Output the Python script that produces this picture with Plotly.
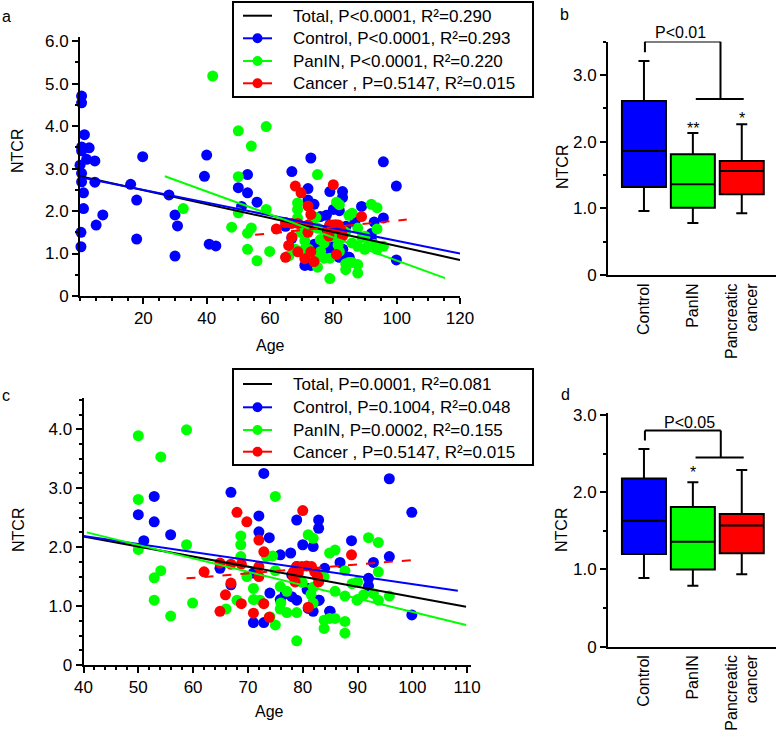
import plotly.graph_objects as go

FONT = "Liberation Sans, Arial, sans-serif"
BLUE, GREEN, RED = "#0000FF", "#00FF00", "#FF0000"
W, H = 777, 738

# ---------------- data (age, NTCR) ----------------
control_age = [0.5, 0.5, 1.4, 0.5, 2.9, 0.5, 2.1, 4.7, 0.0, 0.5, 0.5, 4.7, 1.1, 1.1, 5.1, 7.2, 0.3, 0.3,
               16.0, 17.9, 17.9, 19.8, 28.1, 30.0, 30.8, 30.0, 40.8, 42.9, 39.3, 40.0,
               50.0, 52.9, 52.9, 51.0, 55.9, 66.9, 72.9, 72.0, 72.0, 73.9, 75.9, 77.8, 78.9, 80.0,
               81.9, 82.9, 82.9, 64.9, 66.9, 74.0, 75.9, 76.8, 78.0, 78.9, 71.0, 72.9, 78.9, 81.0,
               82.9, 84.9, 86.8, 88.9, 92.0, 92.0, 92.9, 95.8, 95.8, 99.9, 99.9, 71.0, 84.0, 81.9,
               81.0, 78.0, 81.9, 83.0, 85.0, 80.8]
control_ntcr = [4.71, 4.55, 3.80, 3.51, 3.49, 3.42, 3.22, 3.18, 3.08, 2.89, 2.69, 2.68, 2.43, 2.06, 1.67, 1.91, 1.50, 1.16,
                2.63, 2.26, 1.34, 3.28, 2.38, 1.91, 1.65, 0.94, 1.22, 1.18, 2.82, 3.32,
                2.55, 2.86, 2.43, 2.11, 2.21, 2.93, 3.25, 2.53, 2.26, 2.16, 1.87, 1.90, 2.46, 2.04,
                2.01, 2.46, 2.32, 1.64, 1.36, 1.22, 1.11, 1.21, 1.16, 1.10, 0.72, 0.72, 1.67, 1.30,
                1.10, 0.91, 1.74, 2.11, 1.47, 1.34, 1.74, 1.84, 3.16, 2.59, 0.85, 1.56, 1.64, 0.91,
                0.96, 1.53, 1.05, 1.10, 0.91, 1.28]

panin_age = [41.9, 32.6, 47.9,
             50.0, 58.8, 54.1, 50.0, 50.0, 58.8, 52.9, 54.1, 52.9, 55.9, 59.9, 75.0, 68.7, 68.7, 68.7,
             69.8, 68.0, 66.0, 71.0, 72.2, 71.0, 74.5, 75.0, 74.0, 75.0, 75.9, 77.1, 78.9, 78.9, 81.0,
             81.9, 84.9, 85.9, 87.7, 89.0, 90.0, 85.9, 87.7, 90.0, 91.1, 92.9, 93.8, 95.8, 93.8, 92.0,
             93.8, 87.7, 87.7, 85.9, 84.9, 83.9, 83.9, 75.9, 77.1, 79.9, 81.5, 76.0, 82.9, 81.9, 83.9,
             81.9, 89.9, 73.4]
panin_ntcr = [5.18, 2.06, 1.62,
              3.89, 3.99, 3.53, 2.81, 1.96, 2.04, 1.48, 1.60, 1.10, 0.83, 1.05, 2.86, 2.19, 2.04, 1.84,
              1.50, 1.10, 0.95, 1.11, 1.10, 1.30, 1.85, 1.60, 0.82, 0.68, 0.95, 0.89, 0.89, 0.41, 2.21,
              2.15, 1.90, 1.95, 1.60, 1.38, 1.41, 1.25, 1.17, 1.11, 1.19, 1.21, 1.10, 1.17, 1.58, 2.16,
              2.08, 0.74, 0.54, 0.79, 0.79, 0.76, 0.62, 1.33, 1.25, 1.40, 1.20, 1.05, 1.55, 1.32, 1.50,
              1.05, 1.10, 1.84]

cancer_age = [80.0, 68.0, 69.8, 72.0, 72.9, 62.0, 64.9, 66.9, 68.8, 72.0, 72.0, 66.9, 65.9, 64.9, 68.8,
              71.0, 72.9, 73.9, 81.0, 88.9, 78.3, 78.9, 79.8, 80.7, 81.6, 82.2, 82.7, 82.9, 78.3, 78.6, 79.2]
cancer_ntcr = [2.62, 2.59, 2.43, 2.12, 1.92, 1.58, 1.73, 1.71, 1.71, 1.67, 1.50, 1.39, 1.19, 0.91, 1.04,
               0.88, 1.04, 0.81, 0.98, 1.87, 1.58, 1.67, 1.67, 1.68, 1.67, 1.58, 1.50, 1.41, 1.50, 1.41, 1.56]

AGE_MIN_C = 50  # panel c shows subjects aged 50 and over

# regression lines: [start, end]
fit_a = {
    "total":   ([0, 120], [2.82, 0.85]),
    "control": ([0, 120], [2.80, 1.00]),
    "panin":   ([26.8, 115.3], [2.82, 0.42]),
    "cancer":  ([55.3, 103.2], [1.44, 1.80]),
}
fit_c = {
    "total":   ([40, 109.8], [2.18, 0.99]),
    "control": ([40, 108.3], [2.19, 1.26]),
    "panin":   ([40.6, 109.8], [2.25, 0.68]),
    "cancer":  ([58.8, 99.9], [1.47, 1.78]),
}

legend_keys = ["total", "control", "panin", "cancer"]
legend_a = ["Total, P&lt;0.0001, R²=0.290", "Control, P&lt;0.0001, R²=0.293",
            "PanIN, P&lt;0.0001, R²=0.220", "Cancer , P=0.5147, R²=0.015"]
legend_c = ["Total, P=0.0001, R²=0.081", "Control, P=0.1004, R²=0.048",
            "PanIN, P=0.0002, R²=0.155", "Cancer , P=0.5147, R²=0.015"]

groups = ["Control", "PanIN", "Pancreatic<br>cancer"]
box_b = {"lower": [0.96, 0.78, 0.925], "q1": [1.32, 1.01, 1.21], "median": [1.86, 1.36, 1.56],
         "q3": [2.61, 1.81, 1.71], "upper": [3.21, 2.13, 2.26]}
box_d = {"lower": [0.89, 0.79, 0.94], "q1": [1.20, 1.00, 1.21], "median": [1.63, 1.36, 1.57],
         "q3": [2.18, 1.81, 1.72], "upper": [2.56, 2.13, 2.29]}
stars_b = [("", 0), ("**", 2.19), ("*", 2.34)]
stars_d = [("", 0), ("*", 2.25), ("", 0)]
# bracket: left x, right x, bar x0, bar x1, top y, left foot y, bar y
bracket_b = [0.02, 1.565, 1.06, 2.04, 3.50, 3.34, 2.64]
bracket_d = [0.02, 1.571, 1.055, 2.04, 2.80, 2.67, 2.45]
ptext_b, ptext_d = "P&lt;0.01", "P&lt;0.05"

colors = {"total": "black", "control": BLUE, "panin": GREEN, "cancer": RED}

fig = go.Figure()

def add_scatter(xa, ya, min_age, fits):
    for ages, vals, col in [(control_age, control_ntcr, BLUE), (panin_age, panin_ntcr, GREEN),
                            (cancer_age, cancer_ntcr, RED)]:
        xs = [a for a, v in zip(ages, vals) if a >= min_age]
        ys = [v for a, v in zip(ages, vals) if a >= min_age]
        fig.add_trace(go.Scatter(x=xs, y=ys, mode="markers", xaxis=xa, yaxis=ya, showlegend=False,
                                 cliponaxis=False, marker=dict(color=col, size=11, line=dict(width=0))))
    for key in legend_keys:
        xs, ys = fits[key]
        fig.add_trace(go.Scatter(x=xs, y=ys, mode="lines", xaxis=xa, yaxis=ya, showlegend=False,
                                 cliponaxis=False,
                                 line=dict(color=colors[key], width=2,
                                           dash="dash" if key == "cancer" else "solid")))

add_scatter("x", "y", 0, fit_a)
add_scatter("x3", "y3", AGE_MIN_C, fit_c)

def add_boxes(xa, ya, box):
    for i, (g, col) in enumerate(zip(groups, [BLUE, GREEN, RED])):
        fig.add_trace(go.Box(x=[g], q1=[box["q1"][i]], median=[box["median"][i]], q3=[box["q3"][i]],
                             lowerfence=[box["lower"][i]], upperfence=[box["upper"][i]],
                             fillcolor=col, line=dict(color="black", width=2), width=0.9,
                             whiskerwidth=0.25, boxpoints=False, showlegend=False,
                             xaxis=xa, yaxis=ya))

add_boxes("x2", "y2", box_b)
add_boxes("x4", "y4", box_d)

def px(x):
    return x / W

def py(y):
    return 1 - y / H

minor_style = dict(ticks="outside", ticklen=3, tickwidth=1.5, tickcolor="black")
axis_common = dict(showline=True, linecolor="black", linewidth=2, showgrid=False, zeroline=False,
                   ticks="outside", ticklen=6, tickwidth=2, tickcolor="black", automargin=False,
                   tickfont=dict(family=FONT, size=17, color="black"))

fig.update_layout(
    width=W, height=H, margin=dict(l=0, r=0, t=0, b=0, autoexpand=False),
    paper_bgcolor="white", plot_bgcolor="white", showlegend=False,
    font=dict(family=FONT, size=16, color="black"),
    xaxis=dict(axis_common, domain=[px(80), px(460)], range=[0, 120], anchor="y",
               tickvals=[20, 40, 60, 80, 100, 120],
               minor=dict(minor_style, dtick=5, tick0=0)),
    yaxis=dict(axis_common, domain=[py(296), py(37)], range=[0, 6.1], anchor="x",
               tickvals=[0, 1, 2, 3, 4, 5, 6], ticktext=["0", "1.0", "2.0", "3.0", "4.0", "5.0", "6.0"],
               minor=dict(minor_style, dtick=0.5)),
    xaxis2=dict(axis_common, domain=[px(608), px(776)], range=[-0.735, 2.7], anchor="y2", type="category",
                ticks="", tickangle=-90, tickfont=dict(family=FONT, size=16, color="black")),
    yaxis2=dict(axis_common, domain=[py(275), py(41.6)], range=[0, 3.5], anchor="x2",
                tickvals=[0, 1, 2, 3], ticktext=["0", "1.0", "2.0", "3.0"],
                minor=dict(minor_style, dtick=0.5)),
    xaxis3=dict(axis_common, domain=[px(83.5), px(471)], range=[40, 110.7], anchor="y3",
                tickvals=[40, 50, 60, 70, 80, 90, 100, 110],
                minor=dict(minor_style, dtick=2)),
    yaxis3=dict(axis_common, domain=[py(665), py(398)], range=[0, 4.53], anchor="x3",
                tickvals=[0, 1, 2, 3, 4], ticktext=["0", "1.0", "2.0", "3.0", "4.0"],
                minor=dict(minor_style, dtick=0.25)),
    xaxis4=dict(axis_common, domain=[px(608), px(776)], range=[-0.735, 2.7], anchor="y4", type="category",
                ticks="", tickangle=-90, tickfont=dict(family=FONT, size=16, color="black")),
    yaxis4=dict(axis_common, domain=[py(646.7), py(413)], range=[0, 3.027], anchor="x4",
                tickvals=[0, 1, 2, 3], ticktext=["0", "1.0", "2.0", "3.0"],
                minor=dict(minor_style, dtick=0.5)),
    boxmode="overlay",
)

ann = []
shapes = []

def text(x, y, t, size=16, angle=0, xanchor="center"):
    ann.append(dict(x=px(x), y=py(y), xref="paper", yref="paper", text=t, showarrow=False,
                    textangle=angle, xanchor=xanchor, yanchor="middle",
                    font=dict(family=FONT, size=size, color="black")))

text(0, 17, "a", xanchor="left")
text(558, 15, "b", xanchor="left")
text(0, 395, "c", xanchor="left")
text(559, 394, "d", xanchor="left")
text(17, 151, "NTCR", angle=-90)
text(563, 167, "NTCR", angle=-90)
text(18, 530, "NTCR", angle=-90)
text(561, 530, "NTCR", angle=-90)
text(270, 345, "Age")
text(269, 711, "Age")
text(680, 32.5, ptext_b)
text(689, 422.5, ptext_d)

# legends (boxed key drawn in pixel positions)
def legend_box(top, bottom, rows, labels):
    shapes.append(dict(type="rect", xref="paper", yref="paper", x0=px(233), x1=px(533),
                       y0=py(bottom), y1=py(top), line=dict(color="black", width=2), fillcolor="white",
                       layer="above"))
    for key, yrow, lab in zip(legend_keys, rows, labels):
        shapes.append(dict(type="line", xref="paper", yref="paper", x0=px(243), x1=px(272),
                           y0=py(yrow), y1=py(yrow), line=dict(color=colors[key], width=2)))
        if key != "total":
            shapes.append(dict(type="circle", xref="paper", yref="paper", xsizemode="pixel",
                               ysizemode="pixel", xanchor=px(257.5), yanchor=py(yrow),
                               x0=-5, x1=5, y0=-5, y1=5, fillcolor=colors[key],
                               line=dict(color=colors[key], width=0)))
        text(291, yrow + 0.5, lab, size=17, xanchor="left")

legend_box(2, 97, [15.7, 38.3, 61.0, 83.3], legend_a)
legend_box(369, 465, [384.0, 407.3, 430.0, 451.7], legend_c)

for br, xa, ya, stars in [(bracket_b, "x2", "y2", stars_b), (bracket_d, "x4", "y4", stars_d)]:
    lx, rx, bx0, bx1, top, lfoot, bary = br
    for (x0, y0, x1, y1) in [(lx, lfoot, lx, top), (lx, top, rx, top), (rx, top, rx, bary), (bx0, bary, bx1, bary)]:
        shapes.append(dict(type="line", xref=xa, yref=ya, x0=x0, y0=y0, x1=x1, y1=y1,
                           line=dict(color="black", width=2)))
    for i, (s, yv) in enumerate(stars):
        if s:
            ann.append(dict(x=i, y=yv, xref=xa, yref=ya, text=s, showarrow=False, yanchor="middle",
                            font=dict(family=FONT, size=16, color="black")))

fig.update_layout(annotations=ann, shapes=shapes)
fig.write_html("out.html", config={"displayModeBar": False},
               post_script="document.body.style.margin='0';document.body.style.overflow='hidden';")
